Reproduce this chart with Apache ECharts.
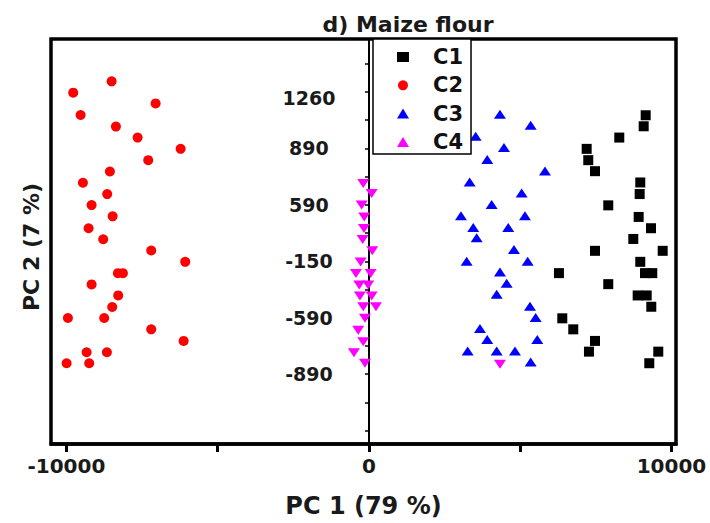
<!DOCTYPE html>
<html><head><meta charset="utf-8">
<script src="https://cdn.jsdelivr.net/npm/echarts@6/dist/echarts.min.js"></script>
<style>html,body{margin:0;padding:0;background:#fff}#c{width:710px;height:523px}</style>
</head><body><div id="c"></div>
<script>
// ---- data (PC1 scores, PC2 in axis-tick units) ----
const seriesNames = ['C1', 'C2', 'C3', 'C4'];
const c1X = [9148, 9082, 8275, 7197, 7250, 7472, 8969, 8949, 7911, 8916, 9323, 8738, 7472, 9710, 8969, 6281, 9125, 9366, 7911, 8883, 9181, 9333, 6391, 6754, 7472, 7273, 9564, 9267];
const c1Y = [11.17, 10.78, 10.38, 9.98, 9.58, 9.19, 8.79, 8.38, 7.98, 7.57, 7.17, 6.79, 6.37, 6.37, 5.98, 5.58, 5.58, 5.58, 5.19, 4.79, 4.79, 4.39, 3.98, 3.59, 3.18, 2.80, 2.80, 2.39];
const c2X = [-8506, -9776, -7052, -9531, -8364, -7647, -6225, -7296, -8563, -9455, -8652, -9168, -8473, -9267, -8784, -7197, -6073, -8298, -8133, -9168, -8288, -8486, -9951, -8751, -7197, -6126, -9333, -8662, -9994, -9247];
const c2Y = [12.37, 11.97, 11.59, 11.18, 10.77, 10.38, 9.98, 9.58, 9.18, 8.78, 8.38, 7.99, 7.59, 7.17, 6.78, 6.38, 5.98, 5.58, 5.58, 5.18, 4.79, 4.38, 3.99, 3.99, 3.59, 3.18, 2.78, 2.78, 2.39, 2.39];
const c3X = [4331, 5346, 3527, 4463, 3911, 5819, 3329, 5048, 4056, 3042, 5157, 3448, 4605, 3561, 4794, 3230, 5247, 4331, 4552, 4222, 5323, 5511, 3670, 3911, 5564, 3263, 4222, 4827, 5346];
const c3Y = [11.21, 10.82, 10.43, 10.03, 9.60, 9.20, 8.81, 8.42, 8.01, 7.61, 7.61, 7.20, 7.20, 6.83, 6.42, 6.00, 6.00, 5.62, 5.22, 4.83, 4.41, 4.01, 3.62, 3.23, 3.23, 2.82, 2.82, 2.82, 2.43];
const c4X = [-188, 89, -241, -155, -165, -208, 109, -274, -430, 56, -321, -23, -298, 89, -188, 231, -132, -354, -188, -496, -132, 4331];
const c4Y = [8.75, 8.40, 7.99, 7.57, 7.16, 6.77, 6.37, 5.97, 5.57, 5.57, 5.16, 5.16, 4.77, 4.77, 4.39, 4.39, 3.98, 3.56, 3.15, 2.76, 2.39, 2.35];

const xTickValues = [-10000, -5000, 0, 5000, 10000];
const xLabelValues = [-10000, 0, 10000];
const yTickValues = [0, 1, 2, 3, 4, 5, 6, 7, 8, 9, 10, 11, 12, 13];
const yTickLabels = ['-890', '-590', '-150', '590', '890', '1260'];
const yLabelValues = [2, 4, 6, 8, 10, 11.77];

const titleText = 'd) Maize flour';
const xName = 'PC 1 (79 %)';
const yName = 'PC 2 (7 %)';

const FONT = 'DejaVu Sans';
const zip = (xs, ys) => xs.map((x, i) => [x, ys[i]]);

const GRID_LEFT = 51, GRID_RIGHT = 34, X_MIN = -10510, X_MAX = 10150;
// shift the y axis from the grid's left edge to where PC1 = 0
const gridW = 710 - GRID_LEFT - GRID_RIGHT;
const yAxisShift = (0 - X_MIN) / (X_MAX - X_MIN) * gridW;

const chart = echarts.init(document.getElementById('c'), null, {renderer: 'svg'});
chart.setOption({
  backgroundColor: '#ffffff',
  animation: false,
  grid: {left: GRID_LEFT, top: 39, right: GRID_RIGHT, bottom: 79, containLabel: false, outerBoundsMode: 'none',
         show: true, borderColor: '#000', borderWidth: 3.5, backgroundColor: 'transparent'},
  xAxis: {
    type: 'value', min: X_MIN, max: X_MAX,
    name: xName, nameLocation: 'middle', nameGap: 50,
    nameTextStyle: {fontFamily: FONT, fontWeight: 'bold', fontSize: 24, color: '#1a1a1a'},
    axisLine: {onZero: false, lineStyle: {color: '#000', width: 3.5}},
    axisTick: {customValues: xTickValues, length: 8, lineStyle: {color: '#000', width: 3}},
    axisLabel: {customValues: xLabelValues, margin: 12, fontFamily: FONT, fontWeight: 'bold', fontSize: 20, color: '#1a1a1a',
                formatter: function (v) { return String(v); }},
    splitLine: {show: false}
  },
  yAxis: {
    type: 'value', min: -0.47, max: 13.87, position: 'left', offset: -yAxisShift,
    axisLine: {onZero: false, lineStyle: {color: '#000', width: 2}},
    axisTick: {customValues: yTickValues, length: 4, lineStyle: {color: '#000', width: 1.5}},
    axisLabel: {
      customValues: yLabelValues, margin: 60, align: 'center',
      fontFamily: FONT, fontWeight: 'bold', fontSize: 19, color: '#1a1a1a',
      formatter: function (v) {
        for (let i = 0; i < yLabelValues.length; i++) {
          if (Math.abs(yLabelValues[i] - v) < 1e-6) return yTickLabels[i];
        }
        return '';
      }
    },
    splitLine: {show: false}
  },
  legend: {
    orient: 'vertical', left: 373, top: 39,
    data: seriesNames,
    itemWidth: 12, itemHeight: 10, itemGap: 4.3,
    padding: [6, 8, 0, 24],
    borderColor: '#000', borderWidth: 1.5, backgroundColor: '#fff',
    textStyle: {fontFamily: FONT, fontWeight: 'bold', fontSize: 21, color: '#111', lineHeight: 24, padding: [0, 0, 0, 19]}
  },
  graphic: [
    {type: 'text', x: 408, y: 24, style: {text: titleText, fontFamily: FONT, fontWeight: 'bold', fontSize: 22, fill: '#1a1a1a', textAlign: 'center', textVerticalAlign: 'middle'}},
    {type: 'text', x: 31, y: 247, rotation: Math.PI / 2, style: {text: yName, fontFamily: FONT, fontWeight: 'bold', fontSize: 22, fill: '#1a1a1a', textAlign: 'center', textVerticalAlign: 'middle'}}
  ],
  series: [
    {name: 'C1', type: 'scatter', symbol: 'rect', symbolSize: 10, itemStyle: {color: '#000000', opacity: 1}, data: zip(c1X, c1Y)},
    {name: 'C2', type: 'scatter', symbol: 'circle', symbolSize: 10, itemStyle: {color: '#ff0000', opacity: 1}, data: zip(c2X, c2Y)},
    {name: 'C3', type: 'scatter', symbol: 'triangle', symbolSize: [12, 9], itemStyle: {color: '#0000ff', opacity: 1}, data: zip(c3X, c3Y)},
    {name: 'C4', type: 'scatter', symbol: 'triangle', symbolRotate: 180, symbolSize: [12, 9], itemStyle: {color: '#ff00ff', opacity: 1}, data: zip(c4X, c4Y)}
  ]
});
</script>
</body></html>
